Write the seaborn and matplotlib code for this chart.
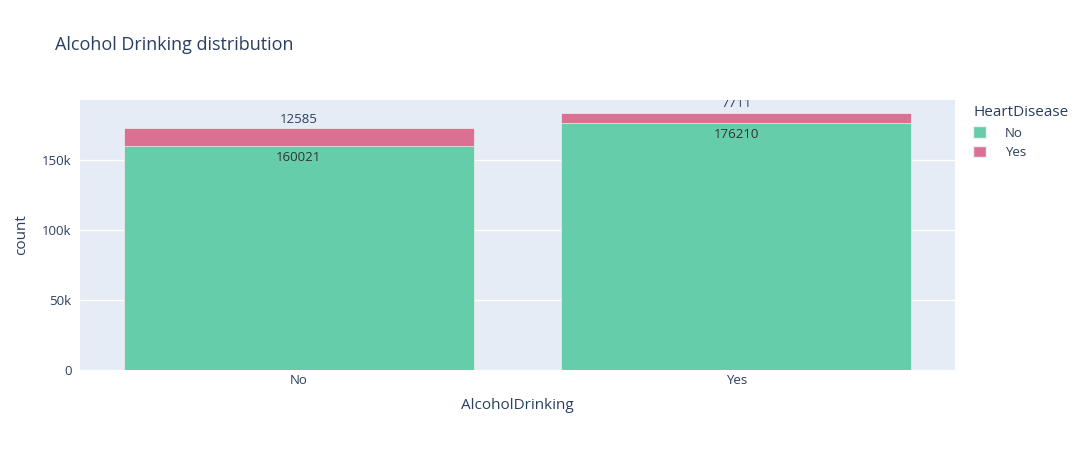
import matplotlib
matplotlib.use("Agg")
import matplotlib.pyplot as plt
import seaborn as sns
import pandas as pd
from matplotlib.patches import Patch

categories = ["No", "Yes"]
no_hd = [160021, 176210]
yes_hd = [12585, 7711]
hue_labels = ["No", "Yes"]
yticks = [0, 50000, 100000, 150000]
ytick_labels = ["0", "50k", "100k", "150k"]

GREEN = "#66cdaa"
PINK = "#dc7093"
TXT = "#2a3f5f"

sns.set_theme(style="white")
plt.rcParams["font.family"] = ["Open Sans", "DejaVu Sans"]

df = pd.DataFrame({"AlcoholDrinking": categories, "No": no_hd, "Yes": yes_hd})
df["total"] = df["No"] + df["Yes"]

W, H = 1082, 450
fig = plt.figure(figsize=(W / 100, H / 100), dpi=100)
ax = fig.add_axes([80 / W, (H - 370) / H, 875 / W, 270 / H])
ax.set_facecolor("#e5ecf6")

sns.barplot(data=df, x="AlcoholDrinking", y="total", order=categories, color=PINK,
            width=0.8, saturation=1, ax=ax, edgecolor="#f0f0f0", linewidth=0.5, zorder=2)
sns.barplot(data=df, x="AlcoholDrinking", y="No", order=categories, color=GREEN,
            width=0.8, saturation=1, ax=ax, edgecolor="#f0f0f0", linewidth=0.5, zorder=3)

ax.set_xlim(-0.5, 1.5)
ax.set_ylim(0, 192900)
ax.set_yticks(yticks)
ax.set_yticklabels(ytick_labels)
ax.grid(axis="y", color="white", linewidth=1, zorder=0)
ax.set_axisbelow(True)
for s in ax.spines.values():
    s.set_visible(False)
ax.tick_params(axis="y", length=0, labelsize=9.5, colors=TXT, pad=6)
ax.tick_params(axis="x", length=0, labelsize=9.5, colors=TXT, pad=3)
ax.set_xlabel("AlcoholDrinking", fontsize=11, color=TXT, labelpad=8)
ax.set_ylabel("count", fontsize=11, color=TXT, labelpad=9)

for i, cat in enumerate(categories):
    ax.annotate(str(no_hd[i]), (i, no_hd[i]), xytext=(0, -8), textcoords="offset points",
                ha="center", va="center", fontsize=9.5, color="#333333", zorder=5)
    t = ax.annotate(str(yes_hd[i]), (i, no_hd[i] + yes_hd[i]), xytext=(0, 6.5),
                    textcoords="offset points", ha="center", va="center",
                    fontsize=9.5, color=TXT, zorder=5, annotation_clip=False)
    t.set_clip_on(True)
    t.set_clip_box(ax.bbox)

fig.text(55 / W, 1 - 45 / H, "Alcohol Drinking distribution", fontsize=13, color=TXT,
         ha="left", va="center")

handles = [Patch(facecolor=GREEN, edgecolor="#f0f0f0"), Patch(facecolor=PINK, edgecolor="#f0f0f0")]
leg = fig.legend(handles, hue_labels, title="HeartDisease", loc="upper left",
                 bbox_to_anchor=(968 / W, 1 - 100 / H), frameon=False, fontsize=9.5,
                 title_fontsize=11, handlelength=1.0, handleheight=1.0, handletextpad=1.4,
                 labelspacing=0.45, borderaxespad=0)
leg.get_title().set_color(TXT)
leg._legend_box.align = "left"
for t in leg.get_texts():
    t.set_color(TXT)

fig.savefig("out.png", dpi=100, facecolor="white")
